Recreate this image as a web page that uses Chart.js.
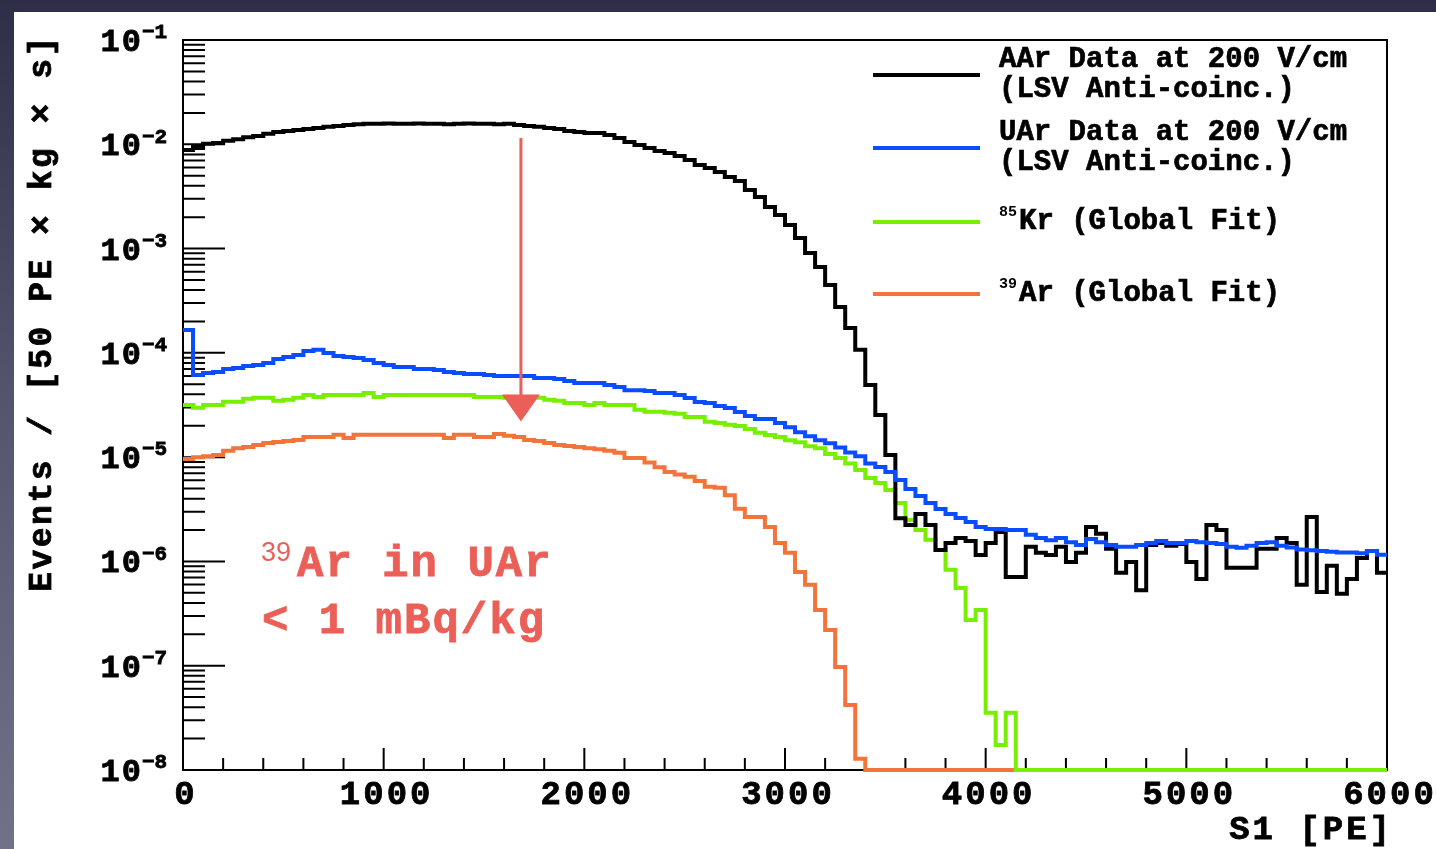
<!DOCTYPE html>
<html>
<head>
<meta charset="utf-8">
<title>S1 spectrum - AAr vs UAr</title>
<script src="https://cdn.jsdelivr.net/npm/chart.js@4.4.1/dist/chart.umd.min.js"></script>
<style>
  html, body { margin: 0; padding: 0; }
  body {
    width: 1436px; height: 849px; overflow: hidden; position: relative;
    background: linear-gradient(to bottom, #2e2e48 0%, #54536e 45%, #72718a 100%);
  }
  #panel { position: absolute; left: 14px; top: 12px; right: 0; bottom: 0; background: #fff; }
  #wrap { position: absolute; left: 0; top: 0; width: 1436px; height: 849px; }
</style>
</head>
<body>
<div id="panel"></div>
<div id="wrap"><canvas id="chart"></canvas></div>
<script>
// S1 spectrum, 50 PE bins from 0 to 6000 PE (120 bins)
const binWidth = 50;
const xTickLabels = ['0', '1000', '2000', '3000', '4000', '5000', '6000'];
const yDecades = [-8, -7, -6, -5, -4, -3, -2, -1];

// AAr data (black)
const aarData = [
  0.00882, 0.00942, 0.0101, 0.0103, 0.0108, 0.0112, 0.0117, 0.0120, 0.0126, 0.0131,
  0.0134, 0.0137, 0.0140, 0.0143, 0.0147, 0.0150, 0.0153, 0.0156, 0.0157, 0.0157,
  0.0158, 0.0157, 0.0157, 0.0158, 0.0157, 0.0157, 0.0156, 0.0157, 0.0158, 0.0157,
  0.0157, 0.0156, 0.0157, 0.0153, 0.0150, 0.0147, 0.0143, 0.0140, 0.0134, 0.0131,
  0.0128, 0.0128, 0.0123, 0.0115, 0.0105, 0.00985, 0.00922, 0.00863, 0.00826, 0.00773,
  0.00707, 0.00634, 0.00593, 0.00542, 0.00485, 0.00445, 0.00365, 0.00313, 0.00251, 0.00210,
  0.00168, 0.00126, 0.000908, 0.000667, 0.000448, 0.000275, 0.000173, 0.000107, 0.0000492, 0.0000254,
  0.0000105, 2.6e-6, 2.24e-6, 2.85e-6, 2.24e-6, 1.29e-6, 1.50e-6, 1.68e-6, 1.57e-6, 1.15e-6,
  1.50e-6, 1.92e-6, 7.1e-7, 7.1e-7, 1.38e-6, 1.21e-6, 1.15e-6, 1.38e-6, 9.9e-7, 1.21e-6,
  2.14e-6, 1.84e-6, 1.32e-6, 7.8e-7, 9.9e-7, 5.3e-7, 1.44e-6, 1.50e-6, 1.41e-6, 1.47e-6,
  9.9e-7, 6.8e-7, 2.24e-6, 2.00e-6, 8.7e-7, 8.7e-7, 8.7e-7, 1.32e-6, 1.32e-6, 1.68e-6,
  1.50e-6, 5.96e-7, 2.67e-6, 5.1e-7, 9.1e-7, 4.9e-7, 6.8e-7, 1.08e-6, 1.26e-6, 7.8e-7
];

// UAr data (blue)
const uarData = [
  1.66e-4, 6.14e-5, 6.41e-5, 6.56e-5, 7.01e-5, 7.16e-5, 7.48e-5, 7.66e-5, 8.0e-5, 8.73e-5,
  9.14e-5, 9.55e-5, 1.04e-4, 1.07e-4, 9.98e-5, 9.34e-5, 9.14e-5, 8.93e-5, 8.55e-5, 8.0e-5,
  7.66e-5, 7.33e-5, 7.33e-5, 7.01e-5, 7.01e-5, 6.86e-5, 6.56e-5, 6.41e-5, 6.28e-5, 6.28e-5,
  6.14e-5, 6.01e-5, 6.01e-5, 6.01e-5, 6.01e-5, 5.74e-5, 5.74e-5, 5.62e-5, 5.38e-5, 5.14e-5,
  5.14e-5, 5.14e-5, 4.92e-5, 4.70e-5, 4.39e-5, 4.39e-5, 4.30e-5, 4.13e-5, 4.13e-5, 3.95e-5,
  3.69e-5, 3.38e-5, 3.31e-5, 3.09e-5, 2.96e-5, 2.71e-5, 2.48e-5, 2.32e-5, 2.32e-5, 2.12e-5,
  1.94e-5, 1.73e-5, 1.59e-5, 1.45e-5, 1.36e-5, 1.24e-5, 1.11e-5, 1.02e-5, 8.7e-6, 8.05e-6,
  7.21e-6, 6.04e-6, 4.95e-6, 4.25e-6, 3.64e-6, 3.18e-6, 2.85e-6, 2.61e-6, 2.39e-6, 2.14e-6,
  2.05e-6, 2.05e-6, 2.0e-6, 2.0e-6, 1.80e-6, 1.68e-6, 1.60e-6, 1.68e-6, 1.53e-6, 1.44e-6,
  1.64e-6, 1.53e-6, 1.44e-6, 1.38e-6, 1.38e-6, 1.44e-6, 1.50e-6, 1.57e-6, 1.50e-6, 1.50e-6,
  1.57e-6, 1.53e-6, 1.50e-6, 1.47e-6, 1.38e-6, 1.35e-6, 1.41e-6, 1.50e-6, 1.53e-6, 1.41e-6,
  1.36e-6, 1.30e-6, 1.28e-6, 1.26e-6, 1.24e-6, 1.22e-6, 1.22e-6, 1.20e-6, 1.26e-6, 1.16e-6
];

// 85Kr global fit (green)
const kr85Data = [
  3.17e-5, 2.97e-5, 3.17e-5, 3.17e-5, 3.40e-5, 3.40e-5, 3.64e-5, 3.72e-5, 3.72e-5, 3.48e-5,
  3.56e-5, 3.72e-5, 3.95e-5, 3.78e-5, 3.95e-5, 3.95e-5, 3.95e-5, 3.95e-5, 4.13e-5, 3.78e-5,
  3.95e-5, 3.95e-5, 3.95e-5, 3.95e-5, 3.95e-5, 3.95e-5, 3.95e-5, 3.95e-5, 3.95e-5, 3.78e-5,
  3.78e-5, 3.78e-5, 3.72e-5, 3.72e-5, 3.72e-5, 3.72e-5, 3.56e-5, 3.48e-5, 3.31e-5, 3.31e-5,
  3.17e-5, 3.31e-5, 3.17e-5, 3.17e-5, 3.17e-5, 2.84e-5, 2.72e-5, 2.72e-5, 2.66e-5, 2.60e-5,
  2.43e-5, 2.43e-5, 2.18e-5, 2.13e-5, 2.04e-5, 1.99e-5, 1.86e-5, 1.71e-5, 1.63e-5, 1.56e-5,
  1.45e-5, 1.39e-5, 1.27e-5, 1.22e-5, 1.07e-5, 9.8e-6, 8.7e-6, 7.54e-6, 6.32e-6, 5.66e-6,
  4.85e-6, 3.64e-6, 2.50e-6, 2.0e-6, 1.61e-6, 1.29e-6, 8.3e-7, 5.57e-7, 2.75e-7, 3.43e-7,
  3.53e-8, 1.74e-8, 3.53e-8, 1e-8, 1e-8, 1e-8, 1e-8, 1e-8, 1e-8, 1e-8,
  1e-8, 1e-8, 1e-8, 1e-8, 1e-8, 1e-8, 1e-8, 1e-8, 1e-8, 1e-8,
  1e-8, 1e-8, 1e-8, 1e-8, 1e-8, 1e-8, 1e-8, 1e-8, 1e-8, 1e-8,
  1e-8, 1e-8, 1e-8, 1e-8, 1e-8, 1e-8, 1e-8, 1e-8, 1e-8, 1e-8
];

// 39Ar global fit (orange)
const ar39Data = [
  9.6e-6, 1.0e-5, 1.02e-5, 1.05e-5, 1.15e-5, 1.22e-5, 1.25e-5, 1.31e-5, 1.37e-5, 1.40e-5,
  1.43e-5, 1.46e-5, 1.56e-5, 1.56e-5, 1.56e-5, 1.64e-5, 1.53e-5, 1.64e-5, 1.64e-5, 1.64e-5,
  1.64e-5, 1.64e-5, 1.64e-5, 1.64e-5, 1.64e-5, 1.64e-5, 1.53e-5, 1.64e-5, 1.64e-5, 1.56e-5,
  1.56e-5, 1.67e-5, 1.60e-5, 1.56e-5, 1.46e-5, 1.43e-5, 1.37e-5, 1.31e-5, 1.28e-5, 1.25e-5,
  1.22e-5, 1.19e-5, 1.15e-5, 1.10e-5, 9.8e-6, 9.8e-6, 8.9e-6, 8.0e-6, 7.2e-6, 6.8e-6,
  6.5e-6, 5.9e-6, 5.2e-6, 5.1e-6, 4.3e-6, 3.2e-6, 2.67e-6, 2.67e-6, 2.14e-6, 1.5e-6,
  1.21e-6, 7.9e-7, 5.96e-7, 3.43e-7, 2.2e-7, 9.7e-8, 4.2e-8, 1.28e-8, 1e-8, 1e-8,
  1e-8, 1e-8, 1e-8, 1e-8, 1e-8, 1e-8, 1e-8, 1e-8, 1e-8, 1e-8,
  1e-8, 1e-8, 1e-8, 1e-8, 1e-8, 1e-8, 1e-8, 1e-8, 1e-8, 1e-8,
  1e-8, 1e-8, 1e-8, 1e-8, 1e-8, 1e-8, 1e-8, 1e-8, 1e-8, 1e-8,
  1e-8, 1e-8, 1e-8, 1e-8, 1e-8, 1e-8, 1e-8, 1e-8, 1e-8, 1e-8,
  1e-8, 1e-8, 1e-8, 1e-8, 1e-8, 1e-8, 1e-8, 1e-8, 1e-8, 1e-8
];

// legend entries: superscript (isotope) + text lines
const legendText = [
  ['AAr Data at 200 V/cm', '(LSV Anti-coinc.)'],
  ['UAr Data at 200 V/cm', '(LSV Anti-coinc.)'],
  ['Kr (Global Fit)'],
  ['Ar (Global Fit)']
];
const legendSup = ['', '', '85', '39'];
const colors = ['#000000', '#0a4cff', '#78ee00', '#f2743a'];

// red arrow: S1 position and the two ends in events
const arrowX = 1684;
const arrowFrom = 0.0115;
const arrowTo = 2.2e-5;
const noteColor = '#ea5f57';

const MONO = '"Liberation Mono", "DejaVu Sans Mono", monospace';
const SANS = '"Liberation Sans", Arial, sans-serif';

// histogram points at the low edge of each bin, plus closing point at 6000
function toPoints(values) {
  const pts = values.map((v, i) => ({ x: i * binWidth, y: v }));
  pts.push({ x: values.length * binWidth, y: values[values.length - 1] });
  return pts;
}

// filled text with a thin outline, ROOT's courier bold is heavier than ours
function boldText(ctx, text, x, y) {
  ctx.fillText(text, x, y);
  ctx.strokeText(text, x, y);
}

const rootStyle = {
  id: 'rootStyle',
  beforeDatasetsDraw(chart) {
    const { ctx, chartArea: a, scales: { x, y } } = chart;
    ctx.save();
    ctx.strokeStyle = '#000';
    ctx.lineWidth = 2;
    ctx.strokeRect(a.left, a.top, a.right - a.left, a.bottom - a.top);
    ctx.beginPath();
    // x ticks, major every 1000, minor every 200
    for (let v = 0; v <= 6000; v += 200) {
      const px = x.getPixelForValue(v);
      const len = v % 1000 === 0 ? 22 : 12;
      ctx.moveTo(px, a.bottom);
      ctx.lineTo(px, a.bottom - len);
    }
    // y ticks, decades long, 2..9 short
    yDecades.forEach(n => {
      const py = y.getPixelForValue(Math.pow(10, n));
      ctx.moveTo(a.left, py);
      ctx.lineTo(a.left + 42, py);
      if (n < -1) {
        for (let m = 2; m <= 9; m++) {
          const pm = y.getPixelForValue(m * Math.pow(10, n));
          ctx.moveTo(a.left, pm);
          ctx.lineTo(a.left + 22, pm);
        }
      }
    });
    ctx.stroke();
    ctx.restore();
  },
  afterDraw(chart) {
    const { ctx, scales: { x, y } } = chart;
    ctx.save();
    ctx.fillStyle = '#000';
    ctx.strokeStyle = '#000';
    ctx.lineWidth = 0.8;
    ctx.textBaseline = 'middle';

    // y tick labels 10^n
    yDecades.forEach(n => {
      const py = y.getPixelForValue(Math.pow(10, n));
      ctx.font = 'bold 32px ' + MONO;
      ctx.letterSpacing = '2px';
      ctx.textAlign = 'right';
      boldText(ctx, '10', 143, py + 3);
      ctx.font = 'bold 21px ' + MONO;
      ctx.letterSpacing = '0px';
      ctx.textAlign = 'left';
      boldText(ctx, '\u2212' + Math.abs(n), 142, py - 7);
    });

    // x tick labels
    ctx.font = 'bold 34px ' + MONO;
    ctx.letterSpacing = '3px';
    ctx.textAlign = 'center';
    xTickLabels.forEach(t => boldText(ctx, t, x.getPixelForValue(Number(t)) + 3, 795));

    // axis titles
    ctx.textAlign = 'right';
    boldText(ctx, 'S1 [PE]', 1393, 830);
    ctx.save();
    ctx.translate(43, 313);
    ctx.rotate(-Math.PI / 2);
    ctx.font = 'bold 33px ' + MONO;
    ctx.letterSpacing = '2.5px';
    ctx.textAlign = 'center';
    boldText(ctx, 'Events / [50 PE \u00d7 kg \u00d7 s]', 0, 0);
    ctx.restore();

    // legend
    const lineY = [75, 148, 222, 294];
    legendText.forEach((lines, i) => {
      ctx.strokeStyle = colors[i];
      ctx.lineWidth = 4;
      ctx.beginPath();
      ctx.moveTo(873, lineY[i]);
      ctx.lineTo(980, lineY[i]);
      ctx.stroke();
      ctx.fillStyle = '#000';
      ctx.strokeStyle = '#000';
      ctx.lineWidth = 0.7;
      ctx.textAlign = 'left';
      ctx.letterSpacing = '0px';
      if (lines.length === 2) {
        ctx.font = 'bold 29px ' + MONO;
        boldText(ctx, lines[0], 999, lineY[i] - 15);
        boldText(ctx, lines[1], 999, lineY[i] + 15);
      } else {
        ctx.font = 'bold 15px ' + MONO;
        ctx.fillText(legendSup[i], 999, lineY[i] - 10);
        ctx.font = 'bold 29px ' + MONO;
        boldText(ctx, lines[0], 1019, lineY[i]);
      }
    });

    // arrow
    const ax = x.getPixelForValue(arrowX);
    const y0 = y.getPixelForValue(arrowFrom);
    const y1 = y.getPixelForValue(arrowTo);
    ctx.strokeStyle = noteColor;
    ctx.fillStyle = noteColor;
    ctx.lineWidth = 3;
    ctx.beginPath();
    ctx.moveTo(ax, y0);
    ctx.lineTo(ax, y1 - 24);
    ctx.stroke();
    ctx.beginPath();
    ctx.moveTo(ax - 19, y1 - 27);
    ctx.lineTo(ax + 19, y1 - 27);
    ctx.lineTo(ax, y1);
    ctx.closePath();
    ctx.fill();

    // annotation
    ctx.textAlign = 'left';
    ctx.letterSpacing = '0px';
    ctx.font = '27px ' + SANS;
    ctx.fillText('39', 261, 554);
    ctx.font = 'bold 44px ' + MONO;
    ctx.letterSpacing = '2px';
    ctx.lineWidth = 0.8;
    boldText(ctx, 'Ar in UAr', 297, 565);
    boldText(ctx, '< 1 mBq/kg', 262, 622);
    ctx.restore();
  }
};

new Chart(document.getElementById('chart'), {
  type: 'line',
  data: {
    datasets: [
      { label: 'AAr Data at 200 V/cm (LSV Anti-coinc.)', data: toPoints(aarData), borderColor: colors[0], order: 2 },
      { label: 'UAr Data at 200 V/cm (LSV Anti-coinc.)', data: toPoints(uarData), borderColor: colors[1], order: 1 },
      { label: '85Kr (Global Fit)', data: toPoints(kr85Data), borderColor: colors[2], order: 3 },
      { label: '39Ar (Global Fit)', data: toPoints(ar39Data), borderColor: colors[3], order: 4 }
    ]
  },
  options: {
    responsive: true,
    maintainAspectRatio: false,
    animation: false,
    layout: { padding: { left: 183, top: 40, right: 49, bottom: 79 } },
    plugins: { legend: { display: false }, tooltip: { enabled: false } },
    datasets: {
      line: { stepped: true, fill: false, borderWidth: 4, pointRadius: 0, clip: false, borderJoinStyle: 'miter' }
    },
    scales: {
      x: { type: 'linear', min: 0, max: 6000, display: false },
      y: { type: 'logarithmic', min: 1e-8, max: 1e-1, display: false }
    }
  },
  plugins: [rootStyle]
});
</script>
</body>
</html>
